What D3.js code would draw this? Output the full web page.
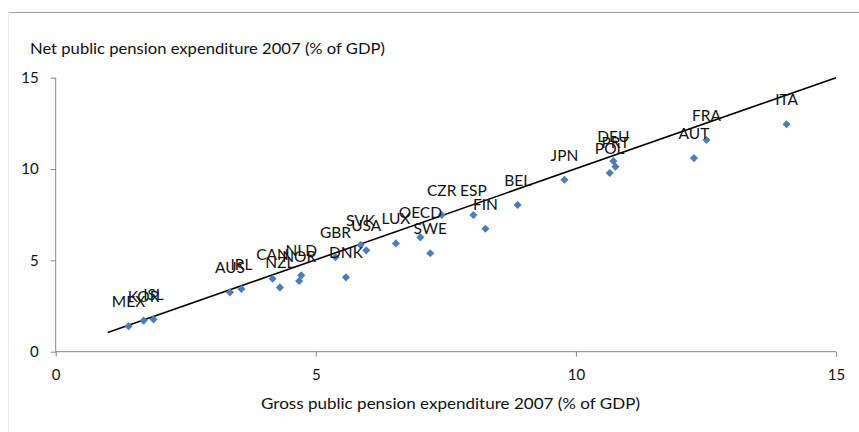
<!DOCTYPE html>
<html>
<head>
<meta charset="utf-8">
<script src="https://cdn.jsdelivr.net/npm/d3@7/dist/d3.min.js"></script>
<style>
  body { margin: 0; background: #fff; }
  svg { display: block; font-family: Lato, "Open Sans", sans-serif; }
</style>
</head>
<body>
<svg id="chart" width="859" height="432"></svg>
<script>
// countries, gross (x) and net (y) public pension expenditure 2007, % of GDP
const countries = ['MEX','KOR','ISL','AUS','IRL','CAN','NZL','NOR','NLD','GBR','DNK','SVK','USA','LUX','OECD','SWE','CZR','ESP','FIN','BEL','JPN','POL','DEU','PRT','AUT','FRA','ITA']
const gross = [1.40,1.69,1.88,3.35,3.57,4.17,4.31,4.68,4.72,5.38,5.58,5.86,5.97,6.54,7.01,7.20,7.42,8.03,8.26,8.88,9.78,10.65,10.72,10.76,12.27,12.51,14.05]
const net   = [1.39,1.70,1.77,3.25,3.43,4.00,3.52,3.87,4.18,5.17,4.07,5.84,5.55,5.93,6.26,5.39,7.48,7.48,6.73,8.03,9.41,9.78,10.44,10.13,10.60,11.59,12.45]

// linear trend line end points
const trendX = [1, 15]
const trendY = [1.05, 15.0]

const xTicks = [0, 5, 10, 15]
const yTicks = [0, 5, 10, 15]

const xTitle = 'Gross public pension expenditure 2007 (% of GDP)'
const yTitle = 'Net public pension expenditure 2007 (% of GDP)'

const svg = d3.select('#chart')
const axisColor = '#868686'
const textColor = '#111'

// frame
svg.append('line').attr('x1', 8).attr('x2', 859).attr('y1', 12.5).attr('y2', 12.5)
  .attr('stroke', '#a0a0a0').attr('stroke-width', 1)
svg.append('line').attr('x1', 8.5).attr('x2', 8.5).attr('y1', 12).attr('y2', 432)
  .attr('stroke', '#ececec').attr('stroke-width', 1)

const x = d3.scaleLinear().domain([0, 15]).range([55.7, 836])
const y = d3.scaleLinear().domain([0, 15]).range([351.7, 77.7])

// x axis
const xAxis = svg.append('g').attr('transform', `translate(0,${y(0)})`)
  .call(d3.axisBottom(x).tickValues(xTicks).tickSize(5).tickPadding(13).tickFormat(d3.format('d')))
xAxis.select('.domain').attr('stroke', axisColor).attr('d', `M${x(0)},0H${x(15)}`)
xAxis.selectAll('.tick line').attr('stroke', axisColor)
xAxis.selectAll('.tick text').attr('font-size', 15).attr('fill', textColor).attr('font-family', 'Lato')

// y axis
const yAxis = svg.append('g').attr('transform', `translate(${x(0)},0)`)
  .call(d3.axisLeft(y).tickValues(yTicks).tickSize(5).tickPadding(12).tickFormat(d3.format('d')))
yAxis.select('.domain').attr('stroke', axisColor).attr('d', `M0,${y(15)}V${y(0)}`)
yAxis.selectAll('.tick line').attr('stroke', axisColor)
yAxis.selectAll('.tick text').attr('font-size', 15).attr('fill', textColor).attr('font-family', 'Lato')

// axis titles
svg.append('text').attr('x', 30).attr('y', 54)
  .attr('font-size', 15).attr('fill', textColor)
  .attr('textLength', 355).attr('lengthAdjust', 'spacingAndGlyphs')
  .text(yTitle)
svg.append('text').attr('x', 261).attr('y', 409)
  .attr('font-size', 15).attr('fill', textColor)
  .attr('textLength', 379).attr('lengthAdjust', 'spacingAndGlyphs')
  .text(xTitle)

// trend line
svg.append('path')
  .datum(d3.zip(trendX, trendY))
  .attr('d', d3.line().x(d => x(d[0])).y(d => y(d[1])))
  .attr('stroke', '#000').attr('stroke-width', 1.6).attr('fill', 'none')

const pts = d3.range(countries.length).map(i => ({ c: countries[i], gx: gross[i], ny: net[i] }))

// diamonds
const diamond = d3.symbol().type(d3.symbolDiamond2).size(42)
svg.append('g').selectAll('path')
  .data(pts)
  .join('path')
    .attr('transform', d => `translate(${x(d.gx)},${y(d.ny)})`)
    .attr('d', diamond)
    .attr('fill', '#4a7ebb')

// labels, centred above each point
svg.append('g').selectAll('text')
  .data(pts)
  .join('text')
    .attr('x', d => x(d.gx))
    .attr('y', d => y(d.ny) - 19)
    .attr('text-anchor', 'middle')
    .attr('font-size', 15.5)
    .attr('fill', textColor)
    .text(d => d.c)
</script>
</body>
</html>
